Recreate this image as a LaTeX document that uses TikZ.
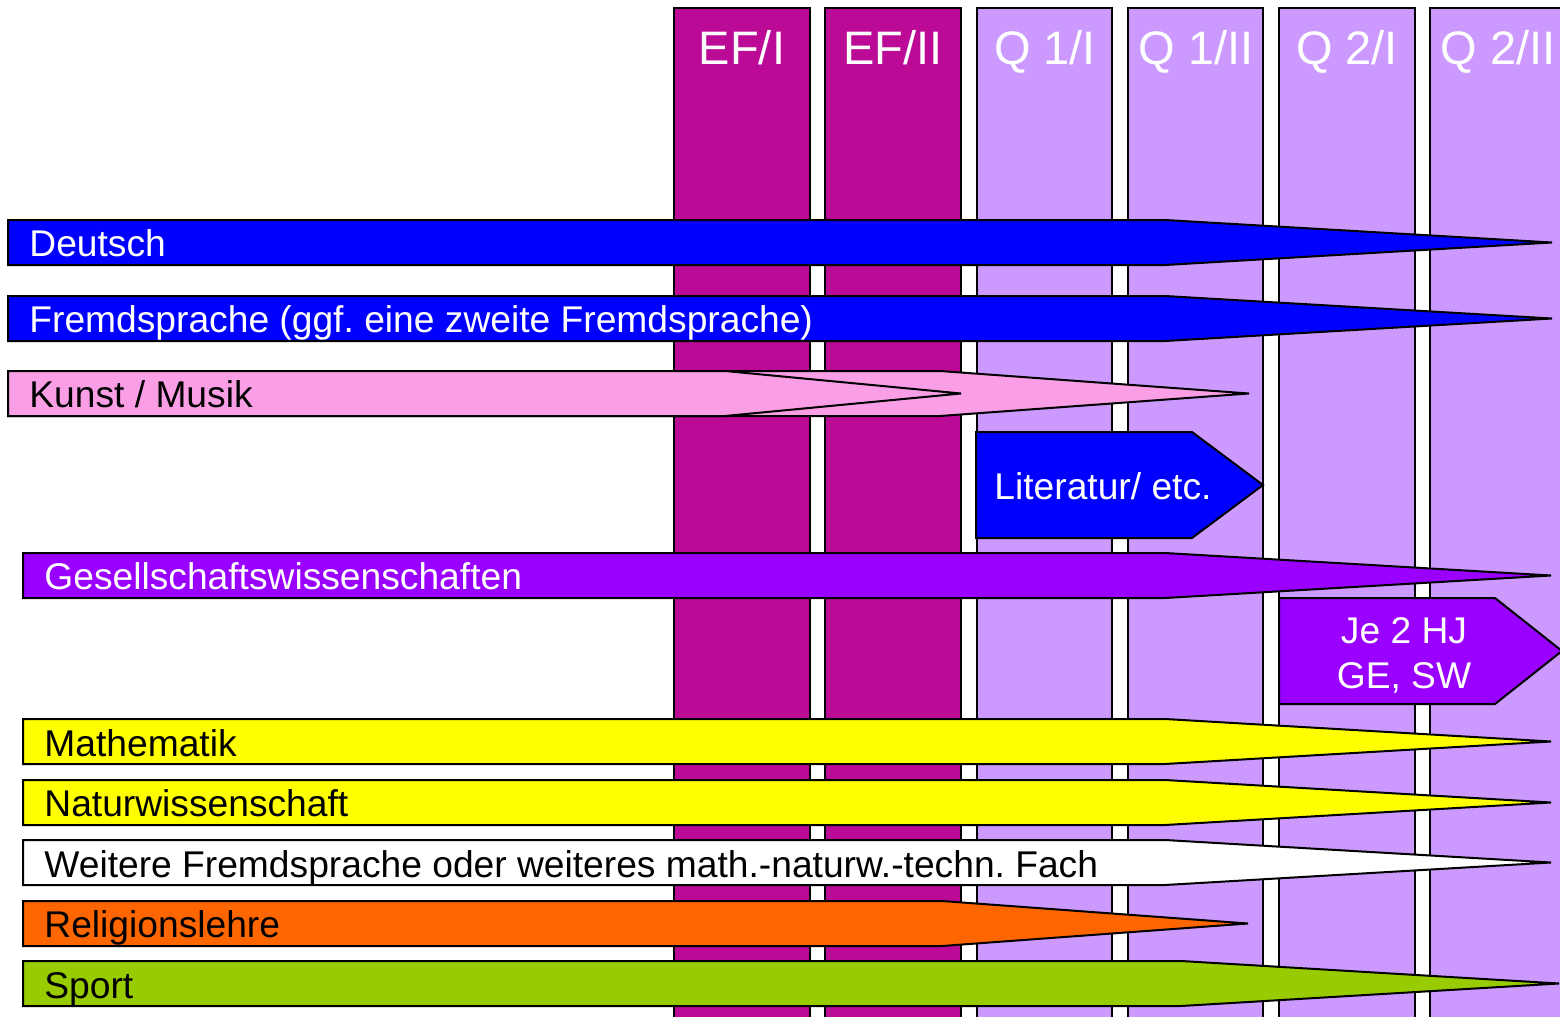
\documentclass[tikz,border=0pt]{standalone}
\usepackage{fontspec}
\setmainfont{Liberation Sans}
\frenchspacing
\definecolor{efcol}{HTML}{BB0A95}
\definecolor{qcol}{HTML}{CC99FF}
\definecolor{dblue}{HTML}{0000FF}
\definecolor{kpink}{HTML}{FA9FE6}
\definecolor{gviolet}{HTML}{9900FF}
\definecolor{myellow}{HTML}{FFFF00}
\definecolor{rorange}{HTML}{FF6600}
\definecolor{sgreen}{HTML}{99CC00}
\tikzset{
  colbox/.style={draw=black, line width=1pt},
  colhead/.style={anchor=base, text=white, font=\fontsize{23.5}{27}\selectfont, inner sep=0pt},
  barshape/.style={draw=black, line width=1pt, line join=miter},
  barlabel/.style={anchor=base west, font=\fontsize{18.6}{22}\selectfont, inner sep=0pt},
}
\newcommand{\bararrow}[6]{% fill, left, top, bottom, shoulder, tip
  \filldraw[barshape, fill=#1] (#2,#3) -- (#5,#3) -- (#6,{(#3+#4)/2}) -- (#5,#4) -- (#2,#4) -- cycle;
}
\begin{document}
\begin{tikzpicture}[x=0.5pt,y=-0.5pt]
\useasboundingbox (0,0) rectangle (1560,1017);
% columns
\filldraw[colbox, fill=efcol] (674,8) rectangle (810,1030);
\filldraw[colbox, fill=efcol] (825,8) rectangle (961,1030);
\filldraw[colbox, fill=qcol] (977,8) rectangle (1112,1030);
\filldraw[colbox, fill=qcol] (1128,8) rectangle (1263,1030);
\filldraw[colbox, fill=qcol] (1279,8) rectangle (1415,1030);
\filldraw[colbox, fill=qcol] (1430,8) rectangle (1575,1030);
\node[colhead] (c1) at (742,64) {EF/I};
\node[colhead] (c2) at (893,64) {EF/II};
\node[colhead] (c3) at (1045,64) {Q 1/I};
\node[colhead] (c4) at (1196,64) {Q 1/II};
\node[colhead] (c5) at (1347,64) {Q 2/I};
\node[colhead] (c6) at (1498,64) {Q 2/II};
% bars
\bararrow{dblue}{8}{220}{265}{1165}{1552}
\node[barlabel, text=white] (deutsch) at (29,256) {Deutsch};
\bararrow{dblue}{8}{296}{341}{1165}{1552}
\node[barlabel, text=white] (fremd) at (29,332) {Fremdsprache (ggf. eine zweite Fremdsprache)};
\bararrow{kpink}{8}{371}{416}{940}{1249}
\bararrow{kpink}{8}{371}{416}{725}{961}
\node[barlabel, text=black] (kunst) at (29,407) {Kunst / Musik};
\bararrow{dblue}{976}{432}{538}{1192}{1263}
\node[barlabel, text=white] (lit) at (994,499) {Literatur/ etc.};
\bararrow{gviolet}{23}{553}{598}{1165}{1551}
\node[barlabel, text=white] (gesell) at (44,589) {Gesellschaftswissenschaften};
\bararrow{gviolet}{1279}{598}{704}{1495}{1562}
\node[anchor=base, text=white, font=\fontsize{18.6}{22}\selectfont, inner sep=0pt] (je1) at (1404,643) {Je 2 HJ};
\node[anchor=base, text=white, font=\fontsize{18.6}{22}\selectfont, inner sep=0pt] (je2) at (1404,688) {GE, SW};
\bararrow{myellow}{23}{719}{764}{1165}{1551}
\node[barlabel, text=black] (mathe) at (44,756) {Mathematik};
\bararrow{myellow}{23}{780}{825}{1165}{1551}
\node[barlabel, text=black] (nawi) at (44,816) {Naturwissenschaft};
\bararrow{white}{23}{840}{885}{1165}{1551}
\node[barlabel, text=black] (weitere) at (44,877) {Weitere Fremdsprache oder weiteres math.-naturw.-techn. Fach};
\bararrow{rorange}{23}{901}{946}{942}{1248}
\node[barlabel, text=black] (reli) at (44,937) {Religionslehre};
\bararrow{sgreen}{23}{961}{1006}{1181}{1559}
\node[barlabel, text=black] (sport) at (44,998) {Sport};
\end{tikzpicture}
\end{document}
